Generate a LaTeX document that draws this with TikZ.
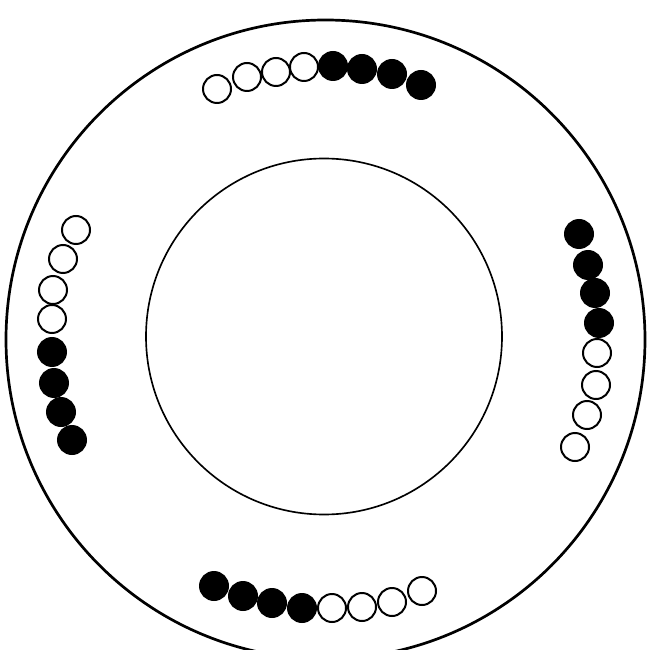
\documentclass[tikz,border=0pt]{standalone}
\usepackage{tikz}

\begin{document}
\begin{tikzpicture}[x=0.03cm,y=-0.03cm,
  ball/.style={circle,draw,line width=1.7pt,minimum size=0.84cm,inner sep=0pt},
  dark/.style={ball,fill=black},
  light/.style={ball,fill=white}]
  \useasboundingbox (0,0) rectangle (663,650);
  \clip (0,0) rectangle (663,650);
  % rings
  \draw[line width=2.3pt] (325.5,339.5) circle[radius=319.5];
  \draw[line width=1.4pt] (324,336.5) circle[radius=178];
  % top row
  \foreach \x/\y [count=\i] in {217/89,247/77,276/72,304/67}
    \node[light] (top-w\i) at (\x,\y) {};
  \foreach \x/\y [count=\i] in {333/66,362/69,392/74,421/85}
    \node[dark] (top-b\i) at (\x,\y) {};
  % left row
  \foreach \x/\y [count=\i] in {76/230,63/259,53/290,52/319}
    \node[light] (left-w\i) at (\x,\y) {};
  \foreach \x/\y [count=\i] in {52/352,54/383,61/412,72/440}
    \node[dark] (left-b\i) at (\x,\y) {};
  % right row
  \foreach \x/\y [count=\i] in {579/234,588/265,595/293,599/323}
    \node[dark] (right-b\i) at (\x,\y) {};
  \foreach \x/\y [count=\i] in {597/353,596/385,587/415,575/447}
    \node[light] (right-w\i) at (\x,\y) {};
  % bottom row
  \foreach \x/\y [count=\i] in {214/586,243/596,272/603,302/608}
    \node[dark] (bottom-b\i) at (\x,\y) {};
  \foreach \x/\y [count=\i] in {332/608,362/607,392/602,422/591}
    \node[light] (bottom-w\i) at (\x,\y) {};
\end{tikzpicture}
\end{document}
